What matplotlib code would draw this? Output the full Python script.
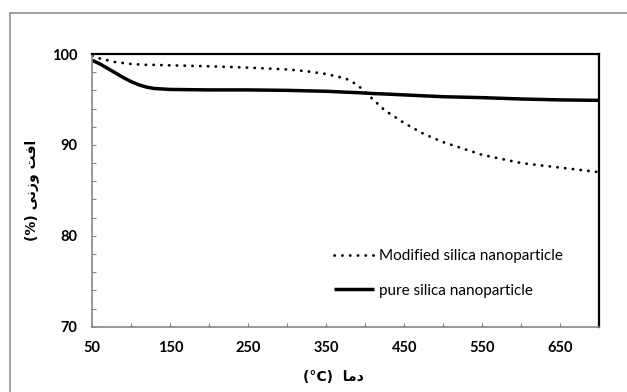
import numpy as np
import matplotlib
matplotlib.use("Agg")
import matplotlib.pyplot as plt
from matplotlib.patches import Rectangle

# ---------------------------------------------------------------------
# data
# ---------------------------------------------------------------------
temp = [50, 60, 70, 80, 90, 100, 110, 120, 130, 150, 200, 250, 300, 325,
        350, 375, 390, 400, 410, 425, 450, 475, 500, 550, 600, 650, 700]
modified = [99.8, 99.5, 99.3, 99.1, 99.0, 98.9, 98.85, 98.8, 98.8, 98.75,
            98.65, 98.5, 98.3, 98.1, 97.8, 97.3, 96.6, 95.8, 95.0, 93.8,
            92.4, 91.2, 90.3, 88.9, 88.0, 87.5, 87.0]
pure = [99.3, 98.9, 98.4, 97.9, 97.4, 96.95, 96.6, 96.35, 96.2, 96.1,
        96.05, 96.05, 96.0, 95.95, 95.9, 95.8, 95.75, 95.7, 95.65, 95.6,
        95.5, 95.4, 95.3, 95.2, 95.05, 94.95, 94.9]
legend_labels = ["Modified silica nanoparticle", "pure silica nanoparticle"]

x_ticks = list(range(50, 701, 50))
x_labels = [str(t) if (t - 50) % 100 == 0 and t < 700 else "" for t in x_ticks]
y_ticks = list(range(70, 101, 2))
y_labels = [str(t) if t % 10 == 0 else "" for t in y_ticks]

# Persian labels written as presentation forms in visual order
ylabel = "(%) \uFBFD\uFEE7\uFEAF\uFEED \uFE96\uFED3\uFE8D"   # افت وزنی (%)
xlabel = "(°C)  \uFE8E\uFEE3\uFEA9"                          # دما (°C)

W, H = 627, 392
fig = plt.figure(figsize=(W / 100, H / 100), dpi=100)
ax = fig.add_axes([92.3 / W, 1 - 326.7 / H, (599.3 - 92.3) / W, (326.7 - 54) / H])

ax.plot(temp, modified, color="black", lw=2.0, linestyle=(0, (0.1, 2.7)),
        dash_capstyle="round", label=legend_labels[0])
ax.plot(temp, pure, color="black", lw=2.5, solid_capstyle="butt",
        label=legend_labels[1])

ax.set_xlim(50, 700)
ax.set_ylim(70, 100)
ax.set_xticks(x_ticks)
ax.set_xticklabels(x_labels)
ax.set_yticks(y_ticks)
ax.set_yticklabels(y_labels)
ax.tick_params(direction="in", length=3, width=0.8, color="#868686",
               labelsize=10.5)
ax.tick_params(axis="x", pad=10)
ax.tick_params(axis="y", pad=11)
for lbl in ax.get_xticklabels() + ax.get_yticklabels():
    lbl.set_fontweight("bold")
    lbl.set_family("Lato")

for s in ["left", "bottom"]:
    ax.spines[s].set_color("#868686")
    ax.spines[s].set_linewidth(1.2)
for s in ["top", "right"]:
    ax.spines[s].set_color("black")
    ax.spines[s].set_linewidth(1.6)

ax.set_xlabel(xlabel, fontsize=10, fontweight="bold", family=["DejaVu Sans"])
ax.xaxis.set_label_coords(0.475, -0.16)
ax.set_ylabel(ylabel, fontsize=10, fontweight="bold", family=["DejaVu Sans"])
ax.yaxis.set_label_coords(-0.105, 0.5)

ax.legend(loc="upper left", bbox_to_anchor=(0.45, 0.335), frameon=False,
          prop={"family": "Lato", "size": 11}, handlelength=2.6,
          handletextpad=0.35, labelspacing=1.35)

# outer chart-area border (runs off the right/bottom edge)
fig.patches.append(Rectangle((9.5 / W, -0.05), 1.2, 1 - 13 / H + 0.05,
                             transform=fig.transFigure, fill=False,
                             edgecolor="#868686", lw=1.1))

fig.savefig("out.png", dpi=100)
